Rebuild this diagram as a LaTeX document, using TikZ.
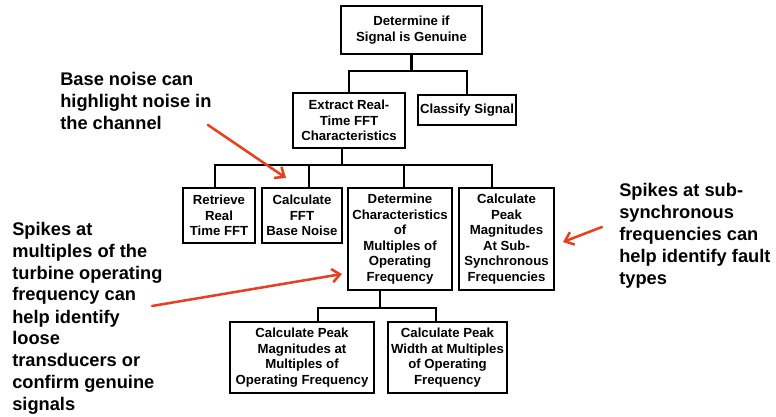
\documentclass[tikz,border=0pt]{standalone}
\usepackage{fontspec}
\setmainfont{Liberation Sans}
\usetikzlibrary{arrows.meta}
\definecolor{notered}{HTML}{E8401F}
\begin{document}
\begin{tikzpicture}[x=0.75pt,y=-0.75pt,
  box/.style={draw,line width=2pt,align=center,inner sep=0pt,
    font=\bfseries\fontsize{9.9}{11.6}\selectfont},
  link/.style={line width=1.6pt},
  note/.style={align=left,inner sep=0pt,anchor=base west,
    font=\bfseries\fontsize{13.7}{16.5}\selectfont},
  callout/.style={draw=notered,line width=1.9pt,line cap=round,
    -{Straight Barb[length=6pt,width=10pt]}}]
\useasboundingbox (0,0) rectangle (776,417);

% decision tree
\node[box,minimum width=105.75pt,minimum height=36pt] (top) at (411.5,30)
  {Determine if\\Signal is Genuine};
\node[box,minimum width=84pt,minimum height=41.25pt] (extract) at (349,120.5)
  {Extract Real-\\Time FFT\\Characteristics};
\node[box,minimum width=73.5pt,minimum height=22.5pt] (classify) at (467,110)
  {Classify Signal};
\node[box,minimum width=54pt,minimum height=41.25pt] (retrieve) at (219,215.5)
  {Retrieve\\Real\\Time FFT};
\node[box,minimum width=60pt,minimum height=41.25pt] (basenoise) at (302,215.5)
  {Calculate\\FFT\\Base Noise};
\node[box,minimum width=78pt,minimum height=76.5pt] (determine) at (400,239)
  {Determine\\Characteristics\\of\\Multiples of\\Operating\\Frequency};
\node[box,minimum width=71.25pt,minimum height=76.5pt] (sub) at (506.5,239)
  {Calculate\\Peak\\Magnitudes\\At Sub-\\Synchronous\\Frequencies};
\node[box,minimum width=108pt,minimum height=53.25pt] (peakmag) at (302,357.5)
  {Calculate Peak\\Magnitudes at\\Multiples of\\Operating Frequency};
\node[box,minimum width=89.25pt,minimum height=53.25pt] (peakwidth) at (447.5,357.5)
  {Calculate Peak\\Width at Multiples\\of Operating\\Frequency};

% tree connectors
\draw[link] (top.south) -- ++(0,16) coordinate (j1);
\draw[link] (extract.north) |- (j1) -| (classify.north);

\draw[link] ([xshift=-5.25pt]extract.south) -- ++(0,16) coordinate (j2);
\draw[link] ([xshift=-3pt]retrieve.north) |- (j2) -| ([xshift=-10.875pt]sub.north);
\draw[link] ([xshift=5.25pt]basenoise.north) |- (j2);
\draw[link] ([xshift=3pt]determine.north) |- (j2);

\draw[link] ([xshift=-15pt]determine.south) -- ++(0,17) coordinate (j3);
\draw[link] ([xshift=12pt]peakmag.north) |- (j3) -| ([xshift=-8.625pt]peakwidth.north);

% notes (anchored at the baseline of their last line)
\node[note] (note1) at (60,130) {Base noise can\\highlight noise in\\the channel};
\node[note] (note2) at (12,411) {Spikes at\\multiples of the\\turbine operating\\frequency can\\help identify\\loose\\transducers or\\confirm genuine\\signals};
\node[note] (note3) at (619,285) {Spikes at sub-\\synchronous\\frequencies can\\help identify fault\\types};

% callout arrows
\coordinate (c1a) at (208,125);
\coordinate (c1b) at (286,178);
\coordinate (c2a) at (152,306);
\coordinate (c2b) at (342,274);
\coordinate (c3a) at (602,227);
\coordinate (c3b) at (563,242);
\draw[callout] (c1a) -- (c1b);
\draw[callout] (c2a) -- (c2b);
\draw[callout] (c3a) -- (c3b);
\end{tikzpicture}
\end{document}
